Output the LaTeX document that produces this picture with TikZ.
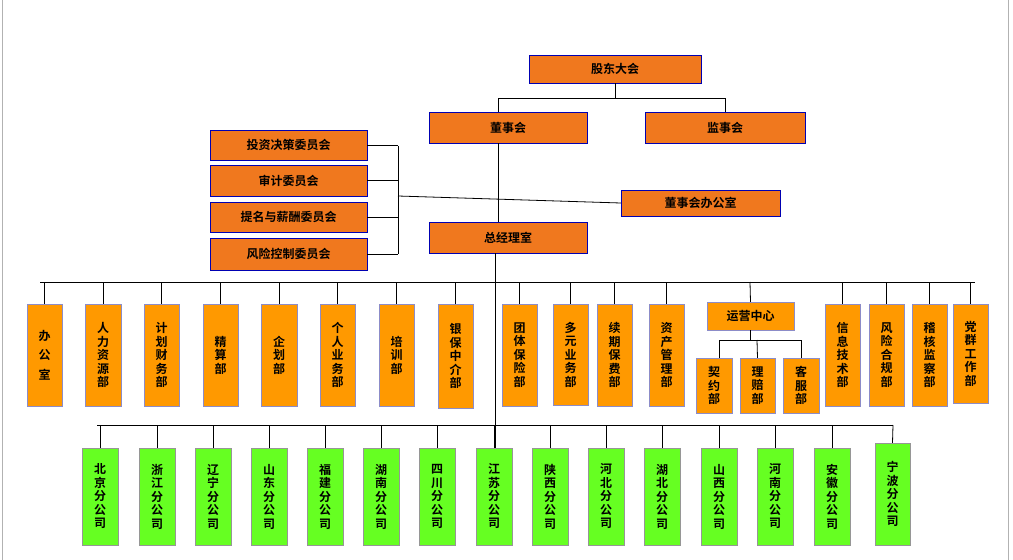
\documentclass[tikz,border=0pt]{standalone}
\usepackage{fontspec}
\newfontfamily\cjk{Noto Sans CJK SC}[BoldFont={Noto Sans CJK SC Bold}]
\begin{document}
\begin{tikzpicture}[x=1pt,y=-1pt,
 top/.style={draw=blue!70!black,fill={rgb,255:red,240;green,120;blue,30},inner sep=0,font=\cjk\bfseries\fontsize{12}{12}\selectfont},
 dep/.style={draw={rgb,255:red,140;green,140;blue,200},fill={rgb,255:red,255;green,153;blue,0},inner sep=0,align=center,font=\cjk\bfseries\fontsize{12}{13.5}\selectfont},
 br/.style={draw={rgb,255:red,150;green,150;blue,150},fill={rgb,255:red,102;green,255;blue,34},inner sep=0,align=center,font=\cjk\bfseries\fontsize{12}{13.5}\selectfont},
 ln/.style={draw=black,line width=0.8pt}]
\useasboundingbox (0,0) rectangle (1013,560);
\newcommand\bx[5]{\node[#1,minimum width=#3-#2,minimum height=#5-#4] (#1#2) at ({(#2+#3)/2},{(#4+#5)/2}) {};}
% top
\node[top,minimum width=172,minimum height=28] (gd) at (615,69) {股东大会};
\node[top,minimum width=158,minimum height=31] (ds) at (508,127.5) {董事会};
\node[top,minimum width=160,minimum height=31] (js) at (725,127.5) {监事会};
\node[top,minimum width=157,minimum height=30] (c1) at (288.5,145) {投资决策委员会};
\node[top,minimum width=157,minimum height=31] (c2) at (288.5,180.5) {审计委员会};
\node[top,minimum width=157,minimum height=30] (c3) at (288.5,217) {提名与薪酬委员会};
\node[top,minimum width=157,minimum height=32] (c4) at (288.5,254) {风险控制委员会};
\node[top,minimum width=159,minimum height=26] (bo) at (700.5,203) {董事会办公室};
\node[top,minimum width=158,minimum height=31] (zj) at (508,237.5) {总经理室};
\coordinate (s1) at (615,98);
\draw[ln] (gd.south) -- (s1);
\draw[ln] (498,98) -- (725,98);
\draw[ln] (498,98) -- (498,112);
\draw[ln] (725,98) -- (js.north);
\draw[ln] (498,143) -- (498,222);
\draw[ln] (398,196) -- (bo.west);
\draw[ln] (398,146) -- (398,254);
\foreach \c in {c1,c2,c3,c4} \draw[ln] (\c.east) -- (\c.east -| 398,0);
% departments
\draw[ln] (40,282) -- (975,282);
\foreach \a/\b/\t/\e in {
 27/62/办\\[6pt]公\\[6pt]室/406, 85/121/人\\力\\资\\源\\部/406, 144/179/计\\划\\财\\务\\部/406,
 203/238/精\\算\\部/406, 261/297/企\\划\\部/406, 320/355/个\\人\\业\\务\\部/406,
 379/414/培\\训\\部/406, 438/473/银\\保\\中\\介\\部/408, 502/537/团\\体\\保\\险\\部/406,
 553/588/多\\元\\业\\务\\部/405, 597/632/续\\期\\保\\费\\部/406, 649/684/资\\产\\管\\理\\部/406,
 825/860/信\\息\\技\\术\\部/406, 869/904/风\\险\\合\\规\\部/406, 912/947/稽\\核\\监\\察\\部/406,
 953/988/党\\群\\工\\作\\部/403}{
 \node[dep,minimum width=\b-\a,minimum height=\e-304] (d\a) at ({(\a+\b)/2},{(304+\e)/2}) {\t};
 \draw[ln] ({(\a+\b)/2},282) -- (d\a.north);
}
\node[dep,minimum width=87,minimum height=28] (yy) at (750.5,316) {运营中心};
\draw[ln] (750,282) -- (yy.north);
\draw[ln] (750,330) -- (750,340);
\draw[ln] (719,340) -- (801,340);
\foreach \a/\b/\t in {696/732/契\\约\\部, 740/775/理\\赔\\部, 783/819/客\\服\\部}{
 \node[dep,minimum width=\b-\a,minimum height=55] (o\a) at ({(\a+\b)/2},385.5) {\t};
}
\draw[ln] (719,340) -- (719,358); \draw[ln] (757,340) -- (o740.north); \draw[ln] (801,340) -- (801,358);
% branches
\draw[ln] (97,425) -- (893,425);
\draw[ln] (zj.south -| 495,0) -- (495,448);
\foreach \c/\t in {100/北\\京\\分\\公\\司,157/浙\\江\\分\\公\\司,213/辽\\宁\\分\\公\\司,269/山\\东\\分\\公\\司,
 325/福\\建\\分\\公\\司,381/湖\\南\\分\\公\\司,437/四\\川\\分\\公\\司,494/江\\苏\\分\\公\\司,550/陕\\西\\分\\公\\司,
 606/河\\北\\分\\公\\司,662/湖\\北\\分\\公\\司,719/山\\西\\分\\公\\司,775/河\\南\\分\\公\\司,832/安\\徽\\分\\公\\司}{
 \node[br,minimum width=36,minimum height=97] (b\c) at (\c,496.5) {\t};
 \draw[ln] (\c,425) -- (b\c.north);
}
\node[br,minimum width=35,minimum height=102] (nb) at (892.5,494) {宁\\波\\分\\公\\司};
\draw[ln] (893,425) -- (nb.north);
\draw[gray!60] (2,0) -- (2,560); \draw[gray!60] (1008,0) -- (1008,560);
\end{tikzpicture}
\end{document}
